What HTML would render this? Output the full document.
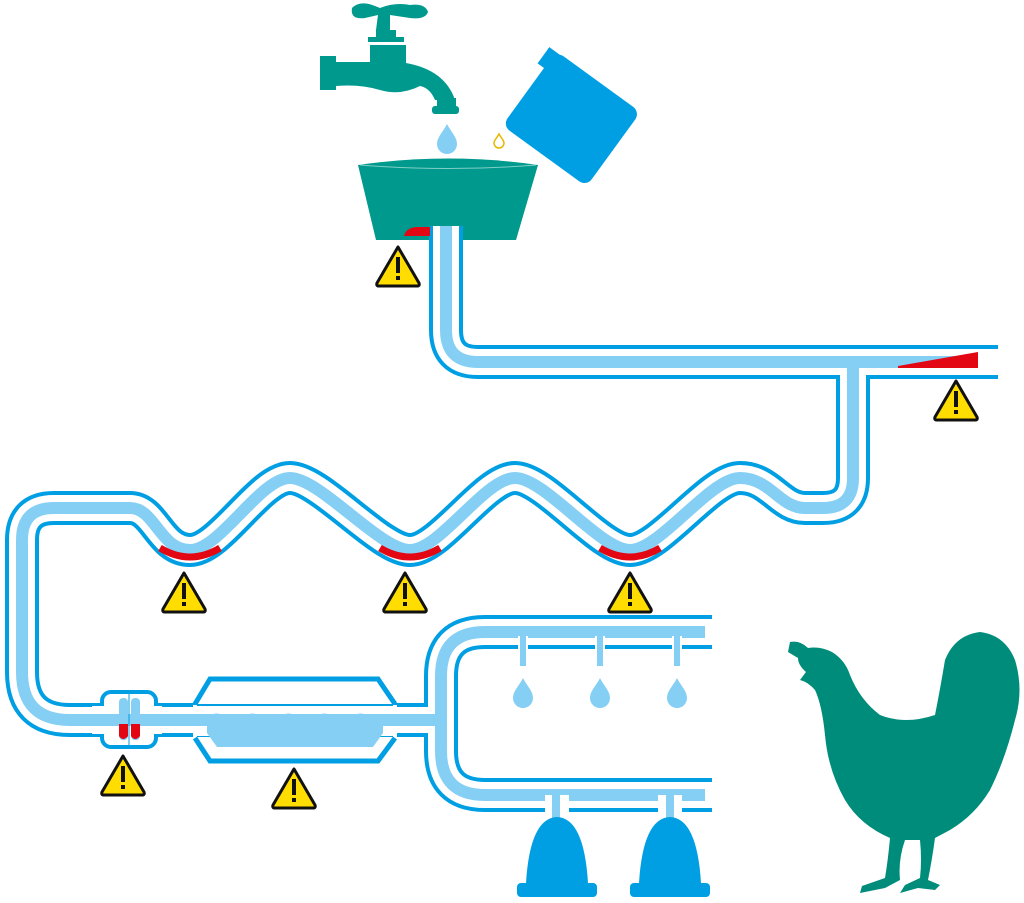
<!DOCTYPE html>
<html><head><meta charset="utf-8"><style>html,body{margin:0;padding:0;background:#fff}svg{display:block}</style></head>
<body>
<svg width="1024" height="903" viewBox="0 0 1024 903" xmlns="http://www.w3.org/2000/svg">
<defs>
<g id="warn">
<path d="M0,-19 L21,17 Q22,20 19,20 H-19 Q-22,20 -21,17 Z" fill="#FFDD00" stroke="#111" stroke-width="3" stroke-linejoin="round"/>
<rect x="-2" y="-9" width="4" height="16" fill="#111"/><rect x="-2" y="10" width="4" height="4" fill="#111"/>
</g>
<g id="drop"><path d="M0,-16 C4,-8 10,-3 10,4 A10,10 0 0 1 -10,4 C-10,-3 -4,-8 0,-16Z" fill="#86CFF4"/></g>
</defs>

<!-- tap -->
<g fill="#00998D">
<path d="M352,8 Q360,0 375,6 L380,8 Q395,2 410,5 Q425,3 428,12 Q425,20 410,18 L390,15 L390,30 L396,30 V37 L404,37 V42 L368,42 V37 L376,37 V30 L378,15 L365,18 Q350,20 352,8Z"/>
<rect x="320" y="56" width="16" height="34"/>
<path d="M336,62 H370 V45 H406 V63 Q445,70 455,100 H435 Q430,88 420,86 Q400,96 380,90 Q360,84 336,86Z"/>
<rect x="432" y="106" width="27" height="8" rx="3"/>
<path d="M437,98 H456 V106 H437Z"/>
</g>
<use href="#drop" x="447" y="140"/>
<path d="M447,126 C449,130 453,133 453,137 A6,6 0 0 1 441,137 C441,133 445,130 447,126Z" fill="none" stroke="#fff" stroke-width="0"/>
<path d="M499,134 C501,138 504,140 504,143 A5,5 0 0 1 494,143 C494,140 497,138 499,134Z" fill="#fff" stroke="#E6B800" stroke-width="1.5"/>
<!-- jerrycan -->
<g transform="translate(572,118) rotate(36)">
<rect x="-52" y="-45" width="104" height="92" rx="9" fill="#009FE3"/>
<rect x="-60" y="-44" width="14" height="20" fill="#009FE3"/>
</g>
<!-- bucket -->
<path d="M358,165 Q448,152 538,165 L516,240 H376Z" fill="#00998D"/>
<path d="M360,165 Q448,172 536,165" fill="none" stroke="#7fcfc7" stroke-width="1"/>

<!-- pipes -->
<g fill="none" stroke-linejoin="round" stroke-linecap="butt">
<path id="p1" d="M446,226 V330 Q446,362 478,362 H998"/>
<path id="p2" d="M853,362 V478 Q853,508 823,508 H805 C780,508 770,478 740,478 C710,478 660,550 630,550 C600,550 545,478 515,478 C485,478 440,550 410,550 C380,550 320,478 290,478 C260,478 220,550 190,550 C160,550 155,508 130,508 H54 Q22,508 22,540 V672 Q22,720 70,720 H441"/>
<path id="p3" d="M715,632 H485 Q441,632 441,676 V751 Q441,795 485,795 H715"/>
<use href="#p1" stroke="#009FE3" stroke-width="34"/>
<use href="#p2" stroke="#009FE3" stroke-width="34"/>
<use href="#p3" stroke="#009FE3" stroke-width="34"/>
<use href="#p1" stroke="#fff" stroke-width="26"/>
<use href="#p2" stroke="#fff" stroke-width="26"/>
<use href="#p3" stroke="#fff" stroke-width="26"/>
<path d="M446,226 V330 Q446,362 478,362 H978" stroke="#86CFF4" stroke-width="12"/>
<use href="#p2" stroke="#86CFF4" stroke-width="12"/>
<path d="M705,632 H485 Q441,632 441,676 V751 Q441,795 485,795 H705" stroke="#86CFF4" stroke-width="12"/>
</g>
<rect x="712" y="612" width="12" height="40" fill="#fff"/>
<rect x="712" y="776" width="12" height="40" fill="#fff"/>
<rect x="998" y="344" width="26" height="36" fill="#fff"/>
<!-- red sediment -->
<path d="M898,366 L978,352 V368 H898Z" fill="#E30613"/>
<path d="M404,236 Q406,228 416,227 H430 V236Z" fill="#E30613"/>
<g fill="none" stroke="#E30613" stroke-width="7">
<path d="M160,548 Q190,566 220,548"/>
<path d="M380,548 Q410,566 440,548"/>
<path d="M600,548 Q630,566 660,548"/>
</g>

<!-- filter -->
<path d="M195,704 L210,679 H378 L395,704 M195,738 L210,761 H378 L395,738" fill="#fff" stroke="#009FE3" stroke-width="5"/>
<rect x="197" y="706" width="196" height="30" fill="#fff"/>
<path d="M195,705 V737 M395,705 V737" stroke="#fff" stroke-width="4"/>
<path d="M155,720 H440" stroke="#86CFF4" stroke-width="12"/>
<path d="M207,717 Q217,710 225,717 T243,717 T261,717 T279,717 T297,717 T315,717 T333,717 T351,717 T369,717 T383,716 V733 L373,747 H217 L207,733Z" fill="#86CFF4"/>
<!-- coupling -->
<rect x="102" y="692" width="54" height="55" rx="9" fill="#fff" stroke="#009FE3" stroke-width="4"/>
<rect x="92" y="706" width="12" height="28" fill="#fff"/><rect x="154" y="706" width="8" height="28" fill="#fff"/>
<path d="M90,720 H170" stroke="#86CFF4" stroke-width="12"/>
<rect x="119" y="698" width="9" height="42" rx="4" fill="#86CFF4"/>
<rect x="131" y="698" width="9" height="42" rx="4" fill="#86CFF4"/>
<path d="M119,724 H128 V736 Q123,742 119,736Z M131,724 H140 V736 Q135,742 131,736Z" fill="#E30613"/>
<line x1="129" y1="692" x2="129" y2="747" stroke="#009FE3" stroke-width="1"/>

<!-- nipples -->
<g fill="#86CFF4">
<rect x="518" y="636" width="10" height="32" fill="#fff"/><rect x="520" y="636" width="6" height="30"/>
<rect x="595" y="636" width="10" height="32" fill="#fff"/><rect x="597" y="636" width="6" height="30"/>
<rect x="672" y="636" width="10" height="32" fill="#fff"/><rect x="674" y="636" width="6" height="30"/>
</g>
<use href="#drop" x="523" y="694"/><use href="#drop" x="600" y="694"/><use href="#drop" x="677" y="694"/>
<!-- cups -->
<g fill="#009FE3">
<rect x="545" y="795" width="24" height="30" fill="#fff"/><rect x="552" y="795" width="8" height="30" fill="#86CFF4"/>
<rect x="658" y="795" width="24" height="30" fill="#fff"/><rect x="666" y="795" width="8" height="30" fill="#86CFF4"/>
<path d="M526,883 Q530,818 557,817 Q584,818 588,883Z"/>
<rect x="517" y="883" width="80" height="14" rx="4"/>
<path d="M639,883 Q643,818 670,817 Q697,818 701,883Z"/>
<rect x="630" y="883" width="80" height="14" rx="4"/>
</g>

<!-- chicken -->
<path fill="#008C7A" d="M790,642 Q800,640 808,648 Q820,646 832,652 Q845,660 850,675 Q860,700 880,715 Q905,725 935,715 Q940,690 945,660 Q955,635 980,632 Q1005,635 1015,660 Q1024,690 1015,720 Q1005,760 990,790 Q975,815 950,830 L935,838 Q932,860 928,880 L940,885 L935,890 L918,888 L900,893 L905,885 L920,878 Q922,860 920,840 L905,840 Q898,860 900,880 L885,888 L860,893 L862,886 L885,878 Q888,860 890,838 Q860,825 845,800 Q828,770 825,735 Q822,705 815,690 Q808,682 800,680 L806,672 Q798,665 798,658 L788,652 Z"/>

<!-- warnings -->
<use href="#warn" x="398" y="266"/>
<use href="#warn" x="956" y="400"/>
<use href="#warn" x="184" y="592"/>
<use href="#warn" x="405" y="592"/>
<use href="#warn" x="630" y="592"/>
<use href="#warn" x="123" y="775"/>
<use href="#warn" x="294" y="788"/>
</svg>
</body></html>
